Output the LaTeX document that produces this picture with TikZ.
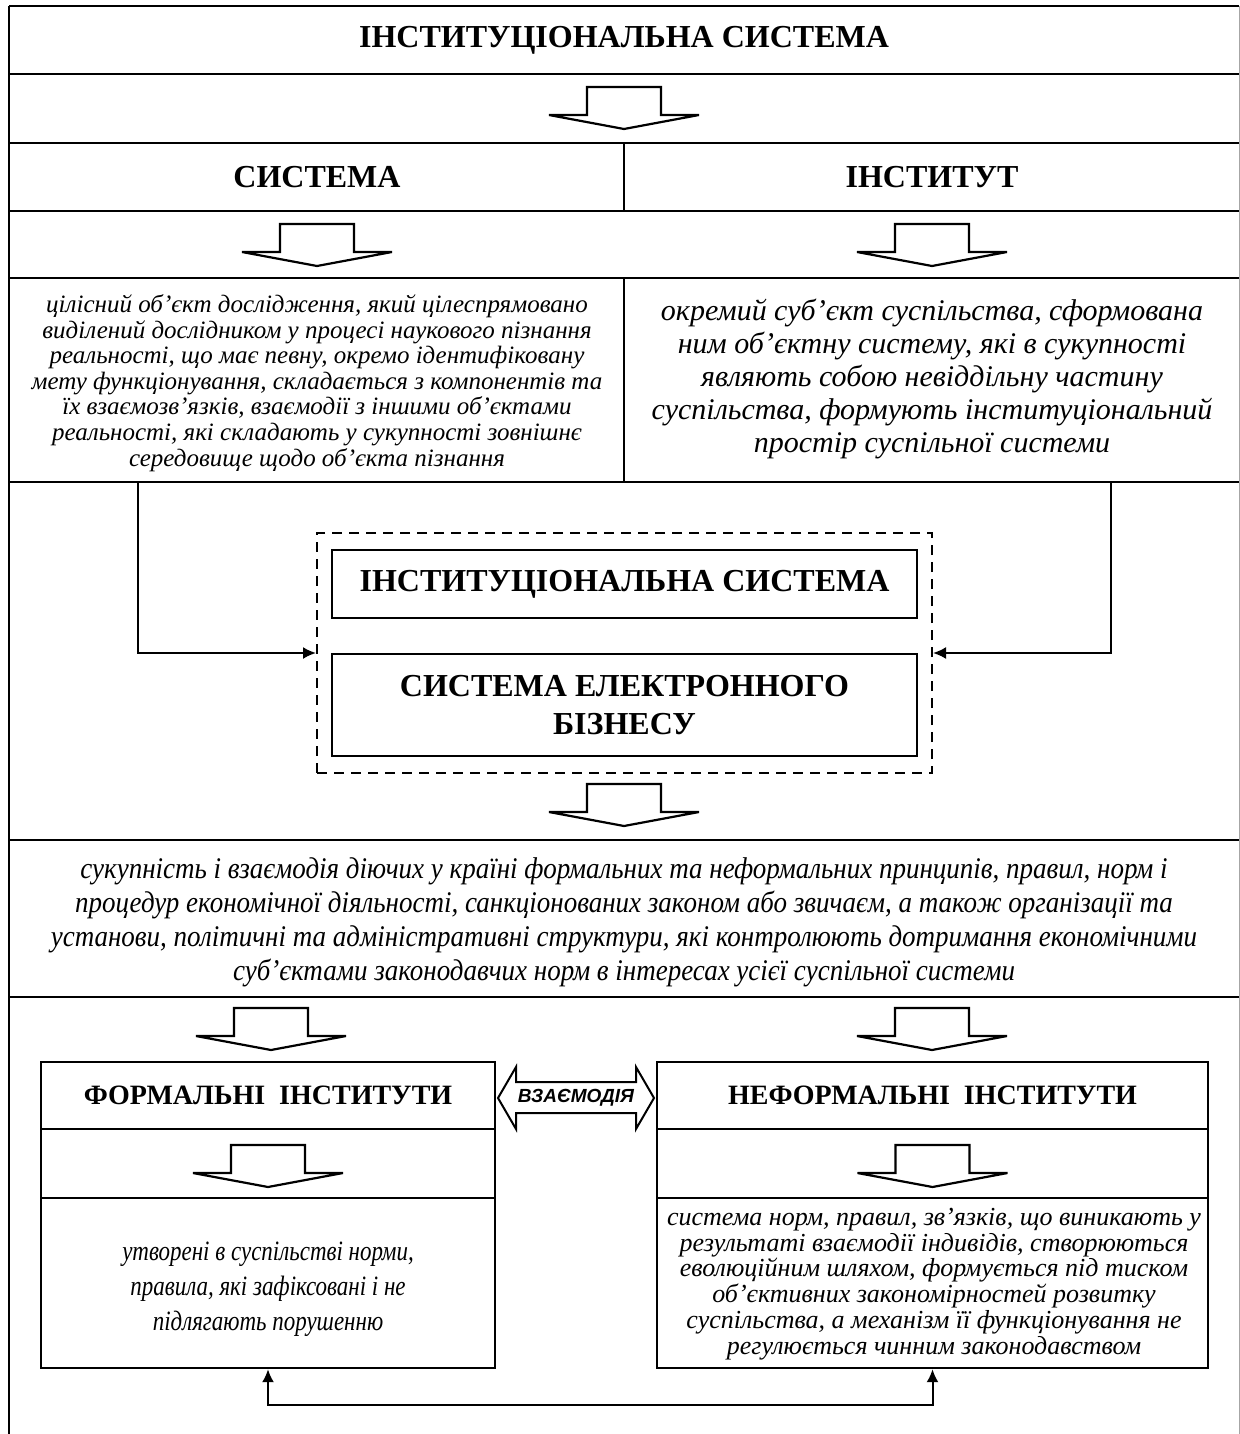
\documentclass[tikz,border=0pt]{standalone}
\usepackage{fontspec}
\setmainfont{Liberation Serif}
\newfontfamily\condserif{Liberation Serif}[FakeStretch=0.9]
\newfontfamily\condserifb{Liberation Serif}[FakeStretch=0.82]
\newfontfamily\sansfam{Liberation Sans}
\usetikzlibrary{arrows.meta}
\newcommand\blockarrow[2]{%
  \draw[barrow] ({#1-37},#2) -- ({#1+37},#2) -- ({#1+37},{#2+28}) -- ({#1+75},{#2+28})
    -- (#1,{#2+42}) -- ({#1-75},{#2+28}) -- ({#1-37},{#2+28}) -- cycle;}
\begin{document}
\begin{tikzpicture}[x=0.5pt,y=-0.5pt,
  grid/.style={line width=1.3pt},
  barrow/.style={draw,line width=1.1pt,line join=miter,fill=white},
  hd/.style={font=\fontsize{16}{19}\selectfont\bfseries,inner sep=0pt,align=center},
  hdbox/.style={hd,draw,line width=1.2pt},
  hdsmall/.style={font=\fontsize{14}{17}\selectfont\bfseries,inner sep=0pt,draw,line width=1.2pt,align=center},
  cell/.style={draw,line width=1.2pt,inner sep=0pt,align=center},
  conn/.style={line width=1pt,-{Latex[length=6.5pt,width=6pt]}},
  dashbox/.style={draw,line width=1pt,dash pattern=on 5pt off 3.5pt,inner sep=0pt},
  txt/.style={inner sep=0pt,align=center}
]
\fill[white] (0,0) rectangle (1240,1434);
\useasboundingbox (0,0) rectangle (1240,1434);

% outer frame and rows
\draw[grid] (9,6) -- (1239,6);
\draw[grid] (9,6) -- (9,1434);
\draw[gray!70,line width=0.6pt] (1239.5,6) -- (1239.5,1434);
\foreach \yy in {74,143,211,278,482,840,997}
  \draw[grid] (9,\yy) -- (1239,\yy);
\draw[line width=1pt] (624,143) -- (624,211);
\draw[grid] (624,278) -- (624,482);

% titles
\node[hd] (title) at (624,40) {ІНСТИТУЦІОНАЛЬНА СИСТЕМА};
\blockarrow{624}{87}
\node[hd] (sys) at (317,177) {СИСТЕМА};
\node[hd] (inst) at (932,177) {ІНСТИТУТ};
\blockarrow{317}{224}
\blockarrow{932}{224}

% definitions
\node[txt,font=\fontsize{12.5}{12.8}\selectfont\itshape] (defL) at (317,383)
 {цілісний об’єкт дослідження, який цілеспрямовано\\
  виділений дослідником у процесі наукового пізнання\\
  реальності, що має певну, окремо ідентифіковану\\
  мету функціонування, складається з компонентів та\\
  їх взаємозв’язків, взаємодії з іншими об’єктами\\
  реальності, які складають у сукупності зовнішнє\\
  середовище щодо об’єкта пізнання};
\node[txt,font=\fontsize{15}{16.5}\selectfont\itshape] (defR) at (932,379)
 {окремий суб’єкт суспільства, сформована\\
  ним об’єктну систему, які в сукупності\\
  являють собою невіддільну частину\\
  суспільства, формують інституціональний\\
  простір суспільної системи};

% central dashed group
\node[dashbox,minimum width=307.5pt,minimum height=120pt] (dbox) at (624.5,653) {};
\node[hdbox,minimum width=292.5pt,minimum height=34pt] (ib1) at (624.5,584) {ІНСТИТУЦІОНАЛЬНА СИСТЕМА};
\node[hdbox,minimum width=292.5pt,minimum height=51pt] (ib2) at (624.5,705) {СИСТЕМА ЕЛЕКТРОННОГО\\БІЗНЕСУ};

\coordinate (lstart) at (138,482);
\coordinate (rstart) at (1111,482);
\draw[conn] (lstart) |- (dbox.west);
\draw[conn] (rstart) |- (dbox.east);

\blockarrow{624}{784}

\node[txt,font=\fontsize{15}{17}\selectfont\condserif\itshape] (mid) at (624,922)
 {сукупність і взаємодія діючих у країні формальних та неформальних принципів, правил, норм і\\
  процедур економічної діяльності, санкціонованих законом або звичаєм, а також організації та\\
  установи, політичні та адміністративні структури, які контролюють дотримання економічними\\
  суб’єктами законодавчих норм в інтересах усієї суспільної системи};

\blockarrow{271}{1008}
\blockarrow{932}{1008}

% bottom boxes
\node[hdsmall,minimum width=227pt,minimum height=33.5pt] (ft) at (268,1095.5) {ФОРМАЛЬНІ\ \ ІНСТИТУТИ};
\node[cell,minimum width=227pt,minimum height=34.5pt] (fa) at (268,1163.5) {};
\node[cell,minimum width=227pt,minimum height=85pt] (fx) at (268,1283) {};
\node[txt,font=\fontsize{14}{17.5}\selectfont\condserifb\itshape] (fxt) at (268,1289)
 {утворені в суспільстві норми,\\правила, які зафіксовані і не\\підлягають порушенню};
\node[hdsmall,minimum width=275.5pt,minimum height=33.5pt] (nt) at (932.5,1095.5) {НЕФОРМАЛЬНІ\ \ ІНСТИТУТИ};
\node[cell,minimum width=275.5pt,minimum height=34.5pt] (na) at (932.5,1163.5) {};
\node[cell,minimum width=275.5pt,minimum height=85pt] (nx) at (932.5,1283) {};
\node[txt,font=\fontsize{13}{12.9}\selectfont\itshape] (nxt) at (934,1284)
 {система норм, правил, зв’язків, що виникають у\\
  результаті взаємодії індивідів, створюються\\
  еволюційним шляхом, формується під тиском\\
  об’єктивних закономірностей розвитку\\
  суспільства, а механізм її функціонування не\\
  регулюється чинним законодавством};
\blockarrow{268}{1145}
\blockarrow{932.5}{1145}

% interaction arrow
\draw[line width=1pt,fill=white,line join=miter] (498,1098) -- (516,1067) -- (516,1082) -- (636,1082) -- (636,1067)
  -- (654,1098) -- (636,1129) -- (636,1113) -- (516,1113) -- (516,1129) -- cycle;
\node[txt,font=\sansfam\bfseries\itshape\fontsize{9.5}{11}\selectfont] (vz) at (576,1098) {ВЗАЄМОДІЯ};

% bottom connector
\coordinate (bot) at (600,1405);
\draw[line width=1pt,{Latex[length=6.5pt,width=6pt]}-{Latex[length=6.5pt,width=6pt]}]
  (fx.south) -- (fx.south |- bot) -| (nx.south);
\end{tikzpicture}
\end{document}
